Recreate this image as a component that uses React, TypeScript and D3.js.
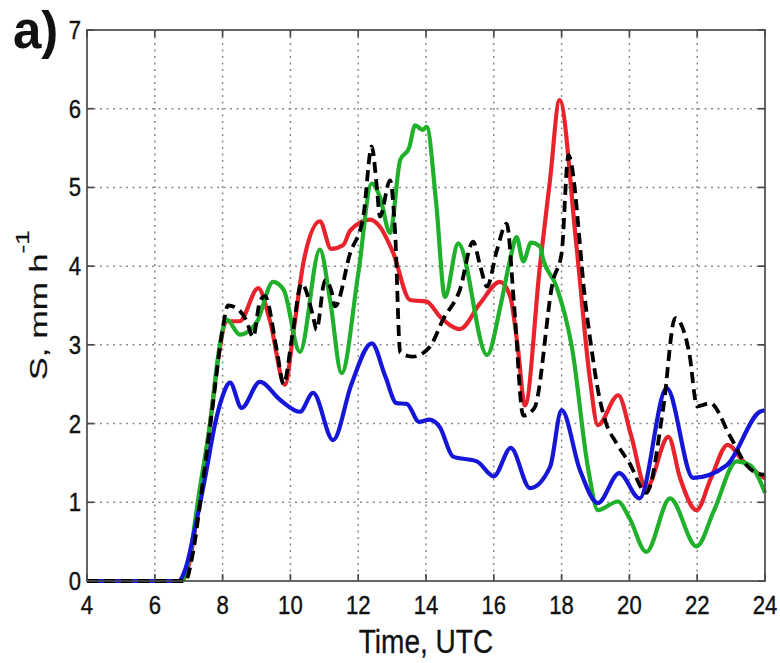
import React from 'react';
import * as d3 from 'd3';

// Axis ticks
const xTicks = [4, 6, 8, 10, 12, 14, 16, 18, 20, 22, 24];
const yTicks = [0, 1, 2, 3, 4, 5, 6, 7];

// Red series (time, UTC hours / S, mm h^-1)
const redTime = [4, 6.8, 7.0, 7.3, 7.6, 7.9, 8.1, 8.5, 9.05, 9.4, 9.84, 10.1, 10.4, 10.87, 11.2, 11.56, 11.76, 12.35, 12.64, 13.03, 13.53, 14.02, 14.41, 15.0, 15.6, 16.18, 16.48, 16.7, 16.92, 17.36, 17.66, 17.94, 18.44, 18.84, 19.07, 19.67, 20.05, 20.5, 21.15, 21.5, 21.98, 22.4, 22.9, 23.36, 24];
const redS = [0, 0, 0.2, 1.0, 1.9, 2.9, 3.3, 3.3, 3.72, 3.3, 2.49, 3.2, 4.08, 4.57, 4.22, 4.27, 4.45, 4.59, 4.5, 4.17, 3.57, 3.55, 3.36, 3.2, 3.53, 3.8, 3.62, 3.0, 2.23, 4.0, 5.1, 6.11, 4.25, 2.55, 1.98, 2.36, 1.85, 1.18, 1.83, 1.3, 0.9, 1.3, 1.73, 1.52, 1.3];

// Black dashed series
const blackTime = [4, 6.9, 7.1, 7.4, 7.7, 8.0, 8.16, 8.4, 8.7, 8.9, 9.1, 9.25, 9.6, 9.8, 10.05, 10.33, 10.67, 10.77, 11.02, 11.2, 11.32, 11.76, 12.15, 12.4, 12.55, 12.64, 12.94, 13.09, 13.24, 13.62, 14.12, 14.5, 15.0, 15.39, 15.6, 15.8, 16.09, 16.38, 16.6, 16.87, 17.2, 17.75, 18.0, 18.2, 18.74, 19.13, 19.3, 19.62, 20.0, 20.5, 21.0, 21.35, 21.76, 22.0, 22.38, 22.97, 23.46, 23.75, 24];
const blackS = [0, 0, 0.3, 1.2, 2.2, 3.2, 3.5, 3.47, 3.31, 3.1, 3.55, 3.62, 2.93, 2.5, 3.1, 3.78, 3.36, 3.19, 3.82, 3.7, 3.49, 4.16, 4.63, 5.52, 5.0, 4.63, 5.09, 4.42, 2.9, 2.85, 2.98, 3.32, 3.7, 4.31, 4.0, 3.74, 4.2, 4.54, 3.5, 2.1, 2.2, 3.82, 4.16, 5.41, 3.4, 2.3, 2.02, 1.75, 1.5, 1.12, 2.2, 3.34, 2.91, 2.22, 2.26, 1.84, 1.47, 1.37, 1.35];

// Green series
const greenTime = [4, 6.8, 7.0, 7.3, 7.63, 7.9, 8.12, 8.51, 9.0, 9.49, 9.8, 10.28, 10.87, 11.17, 11.51, 12.0, 12.4, 12.64, 12.94, 13.24, 13.5, 13.68, 13.9, 14.02, 14.3, 14.56, 14.95, 15.8, 16.2, 16.48, 16.67, 16.87, 17.1, 17.36, 17.46, 17.85, 18.3, 18.79, 19.07, 19.66, 20.0, 20.5, 21.2, 21.98, 22.5, 23.16, 23.56, 24];
const greenS = [0, 0, 0.25, 1.1, 2.0, 2.95, 3.32, 3.13, 3.28, 3.8, 3.7, 2.91, 4.21, 3.57, 2.64, 3.9, 5.05, 4.88, 4.42, 5.35, 5.5, 5.79, 5.73, 5.77, 4.8, 3.61, 4.29, 2.87, 3.5, 4.08, 4.37, 4.06, 4.3, 4.25, 4.08, 3.74, 2.98, 1.41, 0.9, 1.01, 0.8, 0.37, 1.05, 0.44, 0.9, 1.52, 1.47, 1.12];

// Blue series
const blueTime = [4, 6.7, 6.9, 7.2, 7.5, 7.78, 8.0, 8.22, 8.56, 9.1, 9.7, 10.28, 10.67, 11.26, 11.8, 12.4, 12.8, 13.13, 13.43, 13.8, 14.1, 14.4, 14.8, 15.5, 16.0, 16.5, 17.07, 17.66, 18.0, 18.54, 19.07, 19.7, 20.3, 21.1, 21.88, 22.87, 23.85, 24];
const blueS = [0, 0, 0.15, 0.7, 1.35, 2.0, 2.35, 2.52, 2.2, 2.53, 2.3, 2.15, 2.39, 1.79, 2.5, 3.02, 2.6, 2.26, 2.25, 2.02, 2.05, 1.96, 1.58, 1.52, 1.33, 1.69, 1.18, 1.45, 2.17, 1.41, 0.99, 1.37, 1.05, 2.45, 1.31, 1.47, 2.15, 2.17];

const W = 780;
const H = 663;
const left = 87, right = 765, top = 30, bottom = 581;
const FONT = '"Liberation Sans", Arial, Helvetica, sans-serif';

export default function App() {
  const x = d3.scaleLinear().domain([4, 24]).range([left, right]);
  const y = d3.scaleLinear().domain([0, 7]).range([bottom, top]);

  const makePath = (ts: number[], vs: number[]) =>
    d3.line<number>()
      .x((_, i) => x(ts[i]))
      .y((d) => y(d))
      .curve(d3.curveMonotoneX)(vs) || '';

  const series = [
    { t: redTime, v: redS, color: '#e8232b', dash: undefined, w: 4.2 },
    { t: greenTime, v: greenS, color: '#20b02c', dash: undefined, w: 4.2 },
    { t: blueTime, v: blueS, color: '#1616d8', dash: undefined, w: 4.2 },
    { t: blackTime, v: blackS, color: '#000000', dash: '11,6', w: 3.8 },
  ];

  const tickLen = 7;

  return (
    <svg width={W} height={H} style={{ position: 'absolute', left: 0, top: 0, background: '#fff' }}
      xmlns="http://www.w3.org/2000/svg">
      <rect x={0} y={0} width={W} height={H} fill="#fff" />
      {/* grid */}
      <g stroke="#8a8a8a" strokeWidth={1.5} strokeDasharray="2,4.5">
        {xTicks.slice(1, -1).map((t) => (
          <line key={'gx' + t} x1={x(t)} x2={x(t)} y1={top} y2={bottom} />
        ))}
        {yTicks.slice(1, -1).map((v) => (
          <line key={'gy' + v} x1={left} x2={right} y1={y(v)} y2={y(v)} />
        ))}
      </g>
      {/* series */}
      <g fill="none" strokeLinejoin="round" strokeLinecap="butt">
        {series.map((s, i) => (
          <path key={i} d={makePath(s.t, s.v)} stroke={s.color} strokeWidth={s.w}
            strokeDasharray={s.dash} />
        ))}
      </g>
      {/* frame and ticks */}
      <g stroke="#4a4a4a" strokeWidth={1.7}>
        <rect x={left} y={top} width={right - left} height={bottom - top} fill="none" />
        {xTicks.map((t) => (
          <g key={'tx' + t}>
            <line x1={x(t)} x2={x(t)} y1={bottom} y2={bottom - tickLen} />
            <line x1={x(t)} x2={x(t)} y1={top} y2={top + tickLen} />
          </g>
        ))}
        {yTicks.map((v) => (
          <g key={'ty' + v}>
            <line x1={left} x2={left + tickLen} y1={y(v)} y2={y(v)} />
            <line x1={right} x2={right - tickLen} y1={y(v)} y2={y(v)} />
          </g>
        ))}
      </g>
      {/* tick labels */}
      <g fontFamily={FONT} fontSize={26} fill="#111" stroke="#111" strokeWidth={0.4}>
        {xTicks.map((t) => (
          <text key={'lx' + t} transform={`translate(${x(t)},614) scale(0.85,1)`} textAnchor="middle">{t}</text>
        ))}
        {yTicks.map((v) => (
          <text key={'ly' + v} transform={`translate(81,${y(v) + 9}) scale(0.85,1)`} textAnchor="end">{v}</text>
        ))}
      </g>
      {/* axis titles */}
      <text fontFamily={FONT} fontSize={33} fill="#111" stroke="#111" strokeWidth={0.3} textAnchor="middle"
        transform={`translate(${(left + right) / 2},653) scale(0.85,1)`}>Time, UTC</text>
      <text fontFamily={FONT} fontSize={34} fill="#111" stroke="#111" strokeWidth={0.3}
        transform="translate(47,380) scale(0.7,1) rotate(-90)">
        S, mm h<tspan fontSize={26} dy={-26}>-1</tspan>
      </text>
      <text fontFamily={FONT} fontSize={51} fontWeight="bold" fill="#111"
        transform="translate(13,48)">a)</text>
    </svg>
  );
}
